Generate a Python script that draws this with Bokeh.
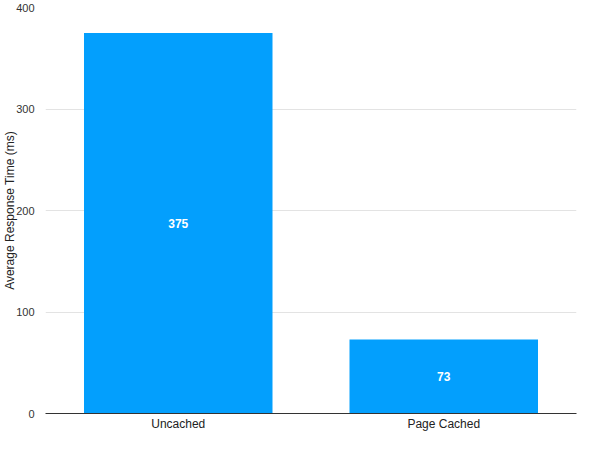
from bokeh.core.properties import value
from bokeh.embed import file_html
from bokeh.models import ColumnDataSource, FixedTicker
from bokeh.plotting import figure
from bokeh.resources import INLINE

# ---------------------------------------------------------------------------
# Data
# ---------------------------------------------------------------------------
categories = ["Uncached", "Page Cached"]
response_ms = [375, 73]
y_ticks = [0, 100, 200, 300, 400]

BAR_COLOR = "#039ffd"
FONT = "Liberation Sans"

source = ColumnDataSource(data=dict(
    cat=categories,
    val=response_ms,
    mid=[v / 2 for v in response_ms],
    label=[str(v) for v in response_ms],
))

p = figure(
    x_range=categories,
    y_range=(0, 400),
    width=584, height=433,
    output_backend="svg",
    toolbar_location=None,
    min_border_top=7, min_border_right=8,
    min_border_left=0, min_border_bottom=0,
)

p.vbar(x="cat", top="val", width=0.71, source=source,
       fill_color=BAR_COLOR, line_color=None)
p.text(x="cat", y="mid", text="label", source=source,
       text_color="white", text_font=value(FONT), text_font_size="12px",
       text_font_style="bold", text_align="center", text_baseline="middle")

# axes
p.yaxis.axis_label = "Average Response Time (ms)"
p.yaxis.axis_label_text_font = FONT
p.yaxis.axis_label_text_font_size = "12px"
p.yaxis.axis_label_text_font_style = "normal"
p.yaxis.axis_label_text_color = "#222222"
p.yaxis.axis_label_standoff = -4
p.yaxis.ticker = FixedTicker(ticks=y_ticks)
p.yaxis.axis_line_color = None
p.yaxis.major_tick_line_color = None
p.yaxis.minor_tick_line_color = None
p.yaxis.major_label_standoff = 5
p.yaxis.major_label_text_font = FONT
p.yaxis.major_label_text_font_size = "11px"
p.yaxis.major_label_text_color = "#333333"

p.xaxis.axis_line_color = "#333333"
p.xaxis.major_tick_line_color = None
p.xaxis.minor_tick_line_color = None
p.xaxis.major_label_standoff = -3
p.xaxis.major_label_text_font = FONT
p.xaxis.major_label_text_font_size = "12px"
p.xaxis.major_label_text_color = "#222222"

p.xgrid.grid_line_color = None
p.ygrid.grid_line_color = "#e3e3e3"
p.outline_line_color = None

open("out.html", "w").write(file_html(p, INLINE))
